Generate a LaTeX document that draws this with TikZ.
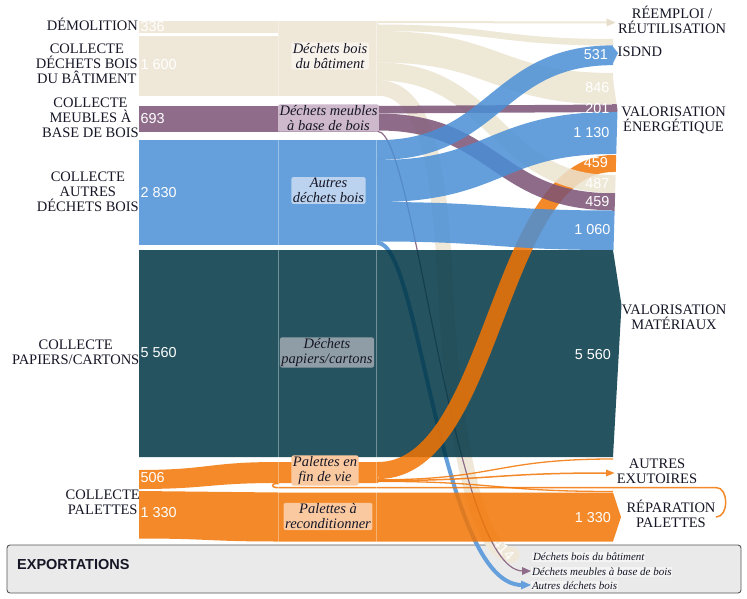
\documentclass[tikz,border=0pt]{standalone}
\usepackage{fontspec}
\setmainfont{Liberation Serif}
\newfontfamily\sansf{Liberation Sans}
\definecolor{ink}{RGB}{22,22,38}
\definecolor{boxline}{RGB}{85,85,85}
\definecolor{boxfill}{RGB}{234,234,234}
\definecolor{beigeT}{RGB}{239,232,216}
\definecolor{purpT}{RGB}{142,108,138}
\definecolor{blueT}{RGB}{101,160,220}
\definecolor{tealT}{RGB}{38,84,97}
\definecolor{oranT}{RGB}{245,138,42}
\definecolor{beigeB}{RGB}{236,228,209}
\definecolor{purpB}{RGB}{122,82,117}
\definecolor{blueB}{RGB}{74,143,214}
\definecolor{tealB}{RGB}{0,54,69}
\definecolor{oranB}{RGB}{243,117,4}
\definecolor{arrBeige}{RGB}{230,221,202}
\definecolor{boxBat}{RGB}{247,243,235}
\definecolor{boxMeu}{RGB}{205,185,203}
\definecolor{boxAut}{RGB}{187,211,238}
\definecolor{boxPap}{RGB}{143,158,166}
\definecolor{boxPal}{RGB}{250,201,160}
\newcommand{\sklink}[6]{%
  \pgfmathsetmacro{\skxm}{(#1+#3)/2}%
  \draw[line width=#5pt,draw=#6,draw opacity=0.85] (#1,#2) .. controls (\skxm,#2) and (\skxm,#4) .. (#3,#4);%
}
\begin{document}
\begin{tikzpicture}[x=1pt,y=-1pt,
  lbl/.style={font=\fontsize{14.5}{15}\selectfont, text=ink, align=center, inner sep=0pt},
  midlbl/.style={font=\fontsize{14.5}{15}\selectfont\itshape, text=ink, align=center, inner xsep=1.5pt, inner ysep=1pt, rounded corners=2pt},
  numl/.style={font=\sansf\fontsize{14.4}{15}\selectfont, text=white, inner sep=0pt},
  exlbl/.style={font=\fontsize{11}{12}\selectfont\itshape, text=ink, inner sep=0.8pt, fill=white, fill opacity=0.5, text opacity=1, anchor=west}
]
\useasboundingbox (0,0) rectangle (747,599);
\fill[white] (0,0) rectangle (747,599);

% ---------- exportations box ----------
\draw[draw=boxline, fill=boxfill, line width=0.9pt, rounded corners=3pt] (7,545) rectangle (741,593);
\node[font=\sansf\bfseries\fontsize{14.5}{15}\selectfont, text=ink, anchor=west, inner sep=0pt] (exp) at (17,564.5) {EXPORTATIONS};

% ---------- export flows (under the papiers band) ----------
\draw[line width=15.4pt, draw=beigeT, line cap=round] (378,88) .. controls (428,88) and (440,175) .. (445,280) .. controls (452.6,440) and (478,555) .. (512,555);
\draw[line width=1.2pt, draw=purpT] (378,131.5) .. controls (415,132) and (452,571) .. (523,571);
\draw[line width=4pt, draw=blueT] (378,243) .. controls (420,243) and (440,585) .. (522,585);
\fill[purpT] (522,567) -- (531,571) -- (522,575) -- cycle;
\fill[blueT] (521,580.5) -- (531,585) -- (521,589.5) -- cycle;
\node[numl, rotate=-48] (n414) at (503.5,549.5) {414};
\node[exlbl] (e1) at (532,557) {Déchets bois du bâtiment};
\node[exlbl] (e2) at (531,572) {Déchets meubles à base de bois};
\node[exlbl] (e3) at (531,585.5) {Autres déchets bois};

% ---------- papiers band and palettes 1330 band ----------
\fill[tealB, fill opacity=0.85] (139,250) -- (613,250) -- (621.5,305) -- (613,457) -- (139,457) -- cycle;
\fill[oranB, fill opacity=0.85] (139,491) .. controls (208,491) and (208,492.5) .. (278,492.5) -- (613,492.5) -- (621,517) -- (613,541.5) -- (278,541.5) .. controls (208,541.5) and (208,538.5) .. (139,538.5) -- cycle;

% ---------- left bands ----------
\fill[beigeT] (139,21) rectangle (378,95.6);
\fill[white] (139,33.5) rectangle (278,36);
\fill[purpT] (139,106) rectangle (378,132);
\fill[blueT] (139,140) rectangle (378,245);
\fill[oranT] (139,470) .. controls (208,470) and (208,462) .. (278,462) -- (378,462) -- (378,483) -- (278,483) .. controls (208,483) and (208,489) .. (139,489) -- cycle;

% ---------- orange links ----------
\sklink{378}{470.5}{613}{163.5}{17}{oranB}
\sklink{378}{479.8}{613}{459}{1.3}{oranB}
\sklink{378}{480.6}{606}{473}{1.5}{oranB}
\sklink{378}{481.4}{613}{491.5}{1.3}{oranB}
\draw[line width=1.5pt, draw=oranB, draw opacity=0.85] (716,517) .. controls (729,517) and (729,487.5) .. (716,487.5) -- (276,487.5) .. controls (271.5,487.5) and (271.5,483.5) .. (276,483.5) -- (279,483.5);
\fill[oranT] (606,469.5) -- (614.5,473) -- (606,476.5) -- cycle;

% ---------- beige links ----------
\sklink{378}{22}{607}{22.5}{2}{beigeB}
\sklink{378}{27.75}{613}{42.25}{6.5}{beigeB}
\sklink{378}{46.75}{613}{88.75}{31.5}{beigeB}
\sklink{378}{71.5}{613}{184}{18}{beigeB}
\fill[arrBeige] (606.5,18.5) -- (615.5,22.5) -- (606.5,26.5) -- cycle;

% ---------- purple links ----------
\sklink{378}{109.75}{613}{108.25}{7.5}{purpB}
\sklink{378}{122}{613}{201.75}{17}{purpB}

% ---------- blue links ----------
\sklink{378}{150}{613}{55.25}{19.8}{blueB}
\sklink{378}{181}{613}{133}{42}{blueB}
\sklink{378}{221.75}{613}{230.25}{39.5}{blueB}

% ---------- right node tips ----------
\fill[blueT] (612,45.5) -- (618,53) -- (612,65) -- cycle;
\begin{scope}
  \clip (612,73) -- (617.5,110) -- (613.5,250) -- (612,250) -- cycle;
  \fill[beigeT] (610,73) rectangle (620,104.5);
  \fill[purpT] (610,104.5) rectangle (620,112);
  \fill[blueT] (610,112) rectangle (620,154);
  \fill[oranT] (610,155) rectangle (620,172);
  \fill[beigeT] (610,175) rectangle (620,193);
  \fill[purpT] (610,193) rectangle (620,210.5);
  \fill[blueT] (610,210.5) rectangle (620,250);
\end{scope}

% ---------- faint column lines ----------
\draw[white, line width=0.7pt, draw opacity=0.35] (278,21) -- (278,541.5);
\draw[white, line width=0.7pt, draw opacity=0.35] (376.5,21) -- (376.5,541.5);

% ---------- middle labels ----------
\node[midlbl, fill=boxBat] (mBat) at (330,56) {Déchets bois\\du bâtiment};
\node[midlbl, fill=boxMeu] (mMeu) at (328.5,118) {Déchets meubles\\à base de bois};
\node[midlbl, fill=boxAut] (mAut) at (328.5,190.5) {Autres\\déchets bois};
\node[midlbl, fill=boxPap] (mPap) at (327,352.5) {Déchets\\papiers/cartons};
\node[midlbl, fill=boxPal] (mFdv) at (325,470.5) {Palettes en\\fin de vie};
\node[midlbl, fill=boxPal] (mRec) at (328,516.5) {Palettes à\\reconditionner};

% ---------- left labels ----------
\node[lbl, anchor=east] (sDem) at (138,24.5) {DÉMOLITION};
\node[lbl, anchor=east] (sBat) at (138,64) {COLLECTE\\DÉCHETS BOIS\\DU BÂTIMENT};
\node[lbl, anchor=east] (sMeu) at (139,118) {COLLECTE\\MEUBLES À\\BASE DE BOIS};
\node[lbl, anchor=east] (sAut) at (139,191.5) {COLLECTE\\AUTRES\\DÉCHETS BOIS};
\node[lbl, anchor=east] (sPap) at (139.5,352.5) {COLLECTE\\PAPIERS/CARTONS};
\node[lbl, anchor=east] (sPal) at (140,502) {COLLECTE\\PALETTES};

% ---------- right labels ----------
\node[lbl] (dRee) at (672,19.5) {RÉEMPLOI /\\RÉUTILISATION};
\node[lbl, anchor=west] (dIsd) at (617.5,52) {ISDND};
\node[lbl] (dEne) at (673.5,120.5) {VALORISATION\\ÉNERGÉTIQUE};
\node[lbl] (dMat) at (674,317) {VALORISATION\\MATÉRIAUX};
\node[lbl] (dAut) at (657,471) {AUTRES\\EXUTOIRES};
\node[lbl] (dRep) at (671,513.5) {RÉPARATION\\PALETTES};

% ---------- numbers ----------
\node[numl, anchor=west] (v1) at (140.5,26.5) {336};
\node[numl, anchor=west] (v2) at (140.5,65) {1 600};
\node[numl, anchor=west] (v3) at (140.5,118.5) {693};
\node[numl, anchor=west] (v4) at (140.5,193) {2 830};
\node[numl, anchor=west] (v5) at (140.5,353) {5 560};
\node[numl, anchor=west] (v6) at (140.5,478) {506};
\node[numl, anchor=west] (v7) at (140.5,512.5) {1 330};
\node[numl, anchor=east] (w1) at (608,55) {531};
\node[numl, anchor=east] (w2) at (609.5,88) {846};
\node[numl, anchor=east] (w3) at (609.5,108.5) {201};
\node[numl, anchor=east] (w4) at (609.5,133) {1 130};
\node[numl, anchor=east] (w5) at (608,163) {459};
\node[numl, anchor=east] (w6) at (609.5,183.5) {487};
\node[numl, anchor=east] (w7) at (609.5,202) {459};
\node[numl, anchor=east] (w8) at (610.5,230) {1 060};
\node[numl, anchor=east] (w9) at (611,355) {5 560};
\node[numl, anchor=east] (w10) at (611,518) {1 330};
\end{tikzpicture}
\end{document}
